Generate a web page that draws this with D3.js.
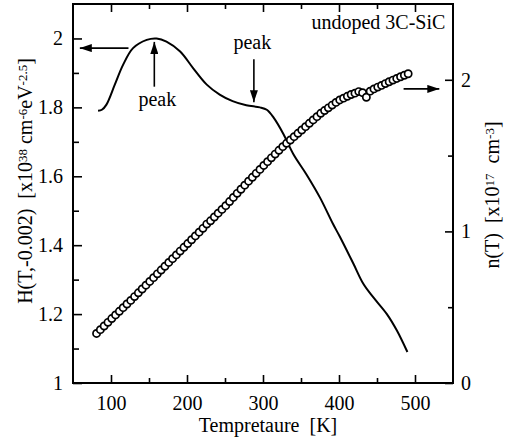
<!DOCTYPE html>
<html>
<head>
<meta charset="utf-8">
<script src="https://cdn.jsdelivr.net/npm/d3@7.9.0/dist/d3.min.js"></script>
<style>
  html, body { margin: 0; padding: 0; background: #fff; }
  svg { display: block; }
  svg text { font-family: "Liberation Serif", Tinos, "Times New Roman", Times, "DejaVu Serif", serif !important; fill: #000; white-space: pre; }
</style>
</head>
<body>
<svg id="chart" width="521" height="438"></svg>
<script>
// H(T,-0.002) curve, left axis
const hTemp = [83, 88, 94, 105, 116, 129, 147, 160, 173, 191, 208, 226, 243, 260, 278, 296,
  305, 314, 327, 340, 357, 375, 392, 401, 419, 432, 445, 463, 476, 490];
const hValue = [1.790, 1.793, 1.808, 1.866, 1.924, 1.972, 1.996, 2.000, 1.991, 1.962, 1.914, 1.866,
  1.837, 1.818, 1.806, 1.800, 1.793, 1.770, 1.722, 1.664, 1.606, 1.538, 1.462, 1.425, 1.346,
  1.288, 1.249, 1.200, 1.153, 1.090];

// n(T) circles, right axis
const nTemp = [81, 86, 91, 96, 101, 106, 111, 116, 121, 126, 131, 136, 141, 146, 151, 156, 161,
  166, 171, 176, 181, 186, 191, 196, 201, 206, 211, 216, 221, 226, 231, 236, 241, 246, 251, 256,
  261, 266, 271, 276, 281, 286, 291, 296, 301, 306, 311, 316, 321, 326, 331, 336, 341, 346, 351,
  356, 361, 366, 371, 376, 381, 386, 391, 396, 401, 406, 411, 416, 421, 426, 431, 436, 441, 446,
  451, 456, 461, 466, 471, 476, 481, 486, 491];
const nValue = [0.327, 0.352, 0.376, 0.400, 0.425, 0.449, 0.473, 0.497, 0.521, 0.545, 0.570,
  0.595, 0.620, 0.645, 0.670, 0.695, 0.720, 0.745, 0.770, 0.795, 0.820, 0.845, 0.870, 0.895,
  0.920, 0.945, 0.970, 0.995, 1.020, 1.048, 1.070, 1.095, 1.120, 1.145, 1.170, 1.197, 1.224,
  1.251, 1.278, 1.305, 1.331, 1.357, 1.383, 1.409, 1.435, 1.460, 1.485, 1.510, 1.535, 1.559,
  1.581, 1.603, 1.625, 1.647, 1.669, 1.691, 1.713, 1.735, 1.757, 1.779, 1.797, 1.815, 1.833,
  1.851, 1.867, 1.879, 1.891, 1.903, 1.912, 1.922, 1.915, 1.885, 1.925, 1.940, 1.952, 1.963,
  1.975, 1.987, 1.998, 2.009, 2.020, 2.030, 2.040];

// ticks
const xMajor = [100, 200, 300, 400, 500];
const xMinor = [150, 250, 350, 450];
const leftMajor = [1, 1.2, 1.4, 1.6, 1.8, 2];
const leftMinor = [1.1, 1.3, 1.5, 1.7, 1.9];
const rightMajor = [0, 1, 2];
const rightMinor = [0.5, 1.5];

const width = 521, height = 438;
const margin = { top: 4, right: 68, bottom: 55, left: 73 };
const svg = d3.select('#chart');
const serif = '"Liberation Serif", Tinos, "Times New Roman", Times, "DejaVu Serif", serif';

const x = d3.scaleLinear().domain([50, 550]).range([margin.left, width - margin.right]);
const yL = d3.scaleLinear().domain([1, 2.1]).range([height - margin.bottom, margin.top]);
const yR = d3.scaleLinear().domain([0, 2.5]).range([height - margin.bottom, margin.top]);

const fontSize = 20;

// arrow head
svg.append('defs').append('marker')
  .attr('id', 'head')
  .attr('viewBox', '0 0 12 8')
  .attr('refX', 12).attr('refY', 4)
  .attr('markerWidth', 12).attr('markerHeight', 8)
  .attr('markerUnits', 'userSpaceOnUse')
  .attr('orient', 'auto')
  .append('path').attr('d', 'M0,0 L12,4 L0,8 Z').attr('fill', '#000');

// axes - ticks pointing inward, no domain path (frame drawn separately)
function styleAxis(g) {
  g.attr('font-family', serif).attr('font-size', fontSize);
  g.select('.domain').remove();
  g.selectAll('line').attr('stroke', '#000').attr('stroke-width', 1.6);
  g.selectAll('text').attr('fill', '#000');
}

const bottom = height - margin.bottom;
svg.append('g').attr('transform', `translate(0,${bottom})`)
  .call(d3.axisBottom(x).tickValues(xMajor).tickSizeInner(-8).tickSizeOuter(0).tickPadding(13).tickFormat(d3.format('d')))
  .call(styleAxis);
svg.append('g').attr('transform', `translate(0,${bottom})`)
  .call(d3.axisBottom(x).tickValues(xMinor).tickSizeInner(-5).tickSizeOuter(0).tickFormat(''))
  .call(styleAxis);
svg.append('g').attr('transform', `translate(0,${margin.top})`)
  .call(d3.axisTop(x).tickValues(xMajor).tickSizeInner(-8).tickSizeOuter(0).tickFormat(''))
  .call(styleAxis);
svg.append('g').attr('transform', `translate(0,${margin.top})`)
  .call(d3.axisTop(x).tickValues(xMinor).tickSizeInner(-5).tickSizeOuter(0).tickFormat(''))
  .call(styleAxis);

svg.append('g').attr('transform', `translate(${margin.left},0)`)
  .call(d3.axisLeft(yL).tickValues(leftMajor).tickSizeInner(-9).tickSizeOuter(0).tickPadding(10).tickFormat(d3.format('')))
  .call(styleAxis);
svg.append('g').attr('transform', `translate(${margin.left},0)`)
  .call(d3.axisLeft(yL).tickValues(leftMinor).tickSizeInner(-6).tickSizeOuter(0).tickFormat(''))
  .call(styleAxis);

const rightX = width - margin.right;
svg.append('g').attr('transform', `translate(${rightX},0)`)
  .call(d3.axisRight(yR).tickValues(rightMajor).tickSizeInner(-8).tickSizeOuter(0).tickPadding(8).tickFormat(d3.format('d')))
  .call(styleAxis);
svg.append('g').attr('transform', `translate(${rightX},0)`)
  .call(d3.axisRight(yR).tickValues(rightMinor).tickSizeInner(-5).tickSizeOuter(0).tickFormat(''))
  .call(styleAxis);

// frame
svg.append('rect')
  .attr('x', margin.left).attr('y', margin.top)
  .attr('width', rightX - margin.left).attr('height', bottom - margin.top)
  .attr('fill', 'none').attr('stroke', '#000').attr('stroke-width', 2);

// H curve
const hData = hTemp.map((t, i) => ({ t, v: hValue[i] }));
svg.append('path')
  .datum(hData)
  .attr('fill', 'none').attr('stroke', '#000').attr('stroke-width', 2)
  .attr('d', d3.line().x(d => x(d.t)).y(d => yL(d.v)).curve(d3.curveCatmullRom.alpha(0.5)));

// n circles
const nData = nTemp.map((t, i) => ({ t, v: nValue[i] }));
svg.append('g').selectAll('circle')
  .data(nData).join('circle')
  .attr('cx', d => x(d.t)).attr('cy', d => yR(d.v)).attr('r', 3.6)
  .attr('fill', '#fff').attr('stroke', '#000').attr('stroke-width', 1.7);

// arrows
function arrow(x1, y1, x2, y2) {
  svg.append('line')
    .attr('x1', x1).attr('y1', y1).attr('x2', x2).attr('y2', y2)
    .attr('stroke', '#000').attr('stroke-width', 1.6)
    .attr('marker-end', 'url(#head)');
}
arrow(x(123), yL(1.972), x(59), yL(1.972));      // to left axis
arrow(x(485), yR(1.94), x(532), yR(1.94));       // to right axis
arrow(x(157), yL(1.86), x(157), yL(1.99));       // first peak
arrow(x(288), yL(1.94), x(288), yL(1.815));      // second peak

// annotations
function label(px, py, anchor, s) {
  return svg.append('text').attr('x', px).attr('y', py).attr('text-anchor', anchor)
    .attr('font-family', serif).attr('font-size', fontSize).text(s);
}
label(x(161), yL(1.805), 'middle', 'peak');
label(x(286), yL(1.97), 'middle', 'peak');
label(x(540), 29, 'end', 'undoped 3C-SiC');

// axis titles
label(268, 432, 'middle', 'Tempretaure  [K]');

function sup(t, s) {
  t.append('tspan').attr('baseline-shift', '40%').attr('font-size', 13).text(s);
}
const lt = svg.append('text')
  .attr('transform', 'translate(32,181) rotate(-90)')
  .attr('text-anchor', 'middle').attr('font-family', serif).attr('font-size', fontSize);
lt.append('tspan').text('H(T,-0.002)  [x10');
sup(lt, '38');
lt.append('tspan').text(' cm');
sup(lt, '-6');
lt.append('tspan').text('eV');
sup(lt, '-2.5');
lt.append('tspan').text(']');

const rt = svg.append('text')
  .attr('transform', 'translate(499,195) rotate(-90)')
  .attr('text-anchor', 'middle').attr('font-family', serif).attr('font-size', fontSize);
rt.append('tspan').text('n(T)  [x10');
sup(rt, '17');
rt.append('tspan').text('  cm');
sup(rt, '-3');
rt.append('tspan').text(']');
</script>
</body>
</html>
